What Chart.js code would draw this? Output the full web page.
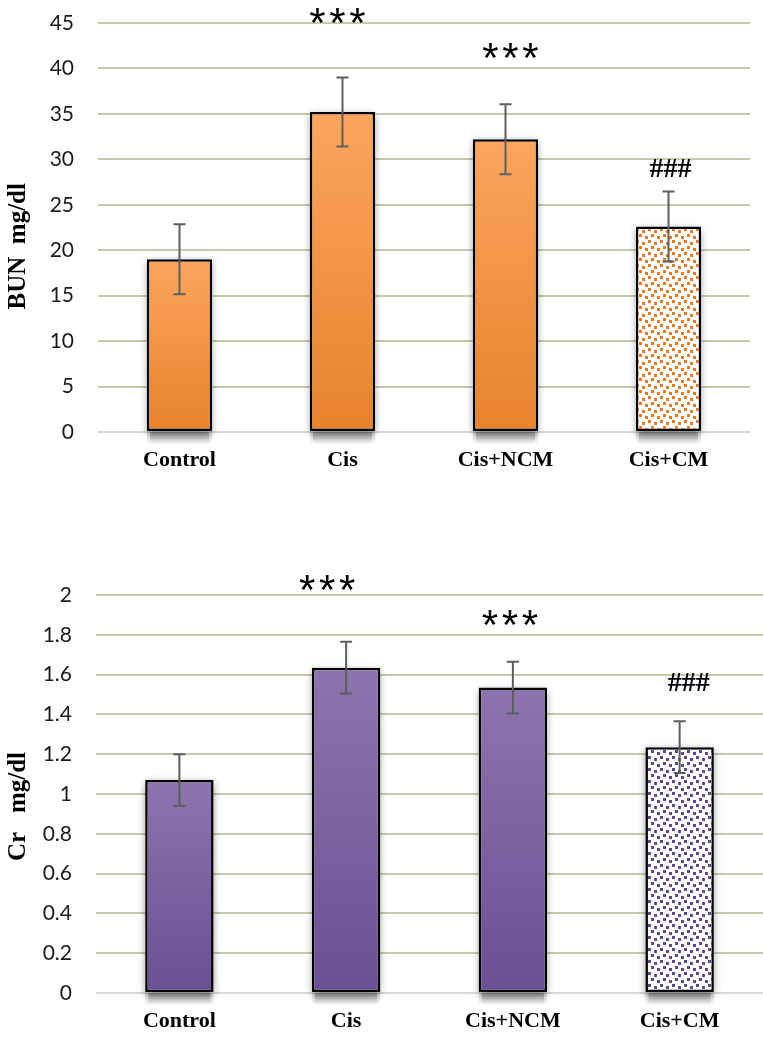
<!DOCTYPE html>
<html>
<head>
<meta charset="utf-8">
<script src="https://cdn.jsdelivr.net/npm/chart.js@4.4.1/dist/chart.umd.min.js"></script>
<style>
  body { margin: 0; background: #fff; }
  .panel { position: absolute; left: 0; width: 763px; }
  #bunBox { top: 0; height: 480px; }
  #crBox { top: 540px; height: 498px; }
</style>
</head>
<body>
<div class="panel" id="bunBox"><canvas id="bunChart" width="763" height="480"></canvas></div>
<div class="panel" id="crBox"><canvas id="crChart" width="763" height="498"></canvas></div>
<script>
// data
const groups = ['Control', 'Cis', 'Cis+NCM', 'Cis+CM'];
const marks = ['', '***', '***', '###'];

const bunMeans = [19.0, 35.2, 32.2, 22.6];
const bunErrors = [3.85, 3.8, 3.85, 3.85];
const bunTicks = ['0', '5', '10', '15', '20', '25', '30', '35', '40', '45'];

const crMeans = [1.07, 1.635, 1.535, 1.235];
const crErrors = [0.13, 0.13, 0.13, 0.13];
const crTicks = ['0', '0.2', '0.4', '0.6', '0.8', '1', '1.2', '1.4', '1.6', '1.8', '2'];

function squarePattern(color) {
  const c = document.createElement('canvas');
  c.width = 12; c.height = 12;
  const g = c.getContext('2d');
  g.fillStyle = '#fff';
  g.fillRect(0, 0, 12, 12);
  g.fillStyle = color;
  [[0, 0], [6, 2], [3, 6], [9, 8]].forEach(([x, y]) => g.fillRect(x, y, 3, 3));
  return g.createPattern(c, 'repeat');
}

function barFill(top, bottom, pattern) {
  return (context) => {
    if (context.dataIndex === 3) return pattern;
    const chart = context.chart;
    const yScale = chart.scales.y;
    if (!chart.chartArea || !yScale) return bottom;
    const y0 = yScale.getPixelForValue(context.raw);
    const y1 = yScale.getPixelForValue(0);
    const grad = chart.ctx.createLinearGradient(0, y0, 0, y1);
    grad.addColorStop(0, top);
    grad.addColorStop(1, bottom);
    return grad;
  };
}

// soft halo round each bar, and the darker band under its foot
const barShadow = {
  id: 'barShadow',
  beforeDatasetsDraw(chart) {
    const ctx = chart.ctx;
    chart.getDatasetMeta(0).data.forEach(bar => {
      const { x, y, base, width } = bar.getProps(['x', 'y', 'base', 'width'], true);
      ctx.save();
      ctx.shadowColor = 'rgba(0,0,0,0.45)';
      ctx.shadowBlur = 8;
      ctx.shadowOffsetY = 3;
      ctx.fillStyle = '#fff';
      ctx.fillRect(x - width / 2 + 1, y, width - 2, base - y);
      ctx.restore();
    });
  },
  afterDatasetsDraw(chart) {
    const ctx = chart.ctx;
    chart.getDatasetMeta(0).data.forEach(bar => {
      const { x, base, width } = bar.getProps(['x', 'base', 'width'], true);
      const left = x - width / 2;
      for (let k = 0; k < 12; k++) {
        const a = 0.55 * (1 - k / 12);
        ctx.fillStyle = 'rgba(70,70,70,' + a.toFixed(3) + ')';
        ctx.fillRect(left + 3, base + 1 + k, width - 6, 1);
        ctx.fillStyle = 'rgba(70,70,70,' + (a * 0.4).toFixed(3) + ')';
        ctx.fillRect(left, base + 1 + k, 3, 1);
        ctx.fillRect(left + width - 3, base + 1 + k, 3, 1);
      }
    });
  }
};

// error bars + significance marks
const errorBars = {
  id: 'errorBars',
  afterDatasetsDraw(chart, args, opts) {
    const ctx = chart.ctx;
    const yScale = chart.scales.y;
    const values = chart.data.datasets[0].data;
    chart.getDatasetMeta(0).data.forEach((bar, i) => {
      const hi = yScale.getPixelForValue(values[i] + opts.errors[i]);
      const lo = yScale.getPixelForValue(values[i] - opts.errors[i]);
      ctx.save();
      ctx.strokeStyle = '#5e5e5e';
      ctx.lineWidth = 2;
      ctx.beginPath();
      ctx.moveTo(bar.x, hi); ctx.lineTo(bar.x, lo);
      ctx.moveTo(bar.x - 6, hi); ctx.lineTo(bar.x + 6, hi);
      ctx.moveTo(bar.x - 6, lo); ctx.lineTo(bar.x + 6, lo);
      ctx.stroke();

      const text = marks[i];
      if (text) {
        const cx = bar.x + opts.dx[i];
        const cy = hi + opts.dy[i];
        ctx.fillStyle = '#000';
        ctx.textAlign = 'center';
        ctx.textBaseline = 'alphabetic';
        if (text.startsWith('*')) {
          ctx.font = '42px "Liberation Sans"';
          [...text].forEach((ch, k) => {
            ctx.fillText(ch, cx + (k - 1) * 20, cy + 0.57 * 42);
          });
        } else {
          ctx.font = 'bold 28px "Liberation Serif"';
          ctx.fillText(text, cx, cy + 0.34 * 28);
        }
      }
      ctx.restore();
    });
  }
};

function makeChart(id, values, errors, tickLabels, max, step, title, colors, box, offsets) {
  const canvas = document.getElementById(id);
  const pattern = squarePattern(colors[2]);
  return new Chart(canvas, {
    type: 'bar',
    data: {
      labels: groups,
      datasets: [{
        data: values,
        backgroundColor: barFill(colors[0], colors[1], pattern),
        borderColor: '#000',
        borderWidth: 2.5,
        borderSkipped: false,
        barPercentage: box.barPct,
        categoryPercentage: 1
      }]
    },
    options: {
      responsive: false,
      animation: false,
      layout: { padding: { top: box.top, right: box.right, left: 0, bottom: 0 } },
      plugins: {
        legend: { display: false },
        tooltip: { enabled: false },
        errorBars: { errors: errors, dx: offsets.dx, dy: offsets.dy }
      },
      scales: {
        x: {
          offset: true,
          grid: { display: false, drawTicks: false },
          border: { display: false },
          ticks: {
            padding: 15,
            color: '#000',
            font: { family: 'Liberation Serif', size: 22, weight: 'bold' }
          },
          afterFit: s => { s.height = box.xHeight; }
        },
        y: {
          min: 0,
          max: max,
          grid: {
            color: c => (c.tick && c.tick.value === 0) ? '#d9d9d9' : '#cbc7aa',
            lineWidth: 2,
            drawTicks: false
          },
          border: { display: false },
          ticks: {
            stepSize: step,
            padding: 24,
            color: '#1a1a1a',
            font: { family: 'Lato', size: 21 },
            callback: (v, i) => tickLabels[i]
          },
          title: {
            display: true,
            text: title,
            color: '#000',
            font: { family: 'Liberation Serif', size: 25, weight: 'bold' },
            padding: { top: 4, bottom: 0 }
          },
          afterFit: s => {
            s.width = box.yWidth;
            // tick padding should not push the plot area down
            s.paddingTop = 12;
            s.paddingBottom = 12;
          }
        }
      }
    },
    plugins: [barShadow, errorBars]
  });
}

makeChart('bunChart', bunMeans, bunErrors, bunTicks, 45, 5, 'BUN  mg/dl      ',
  ['#fba55e', '#e7822c', '#e87a22'],
  { top: 23, right: 13, yWidth: 98, xHeight: 48, barPct: 0.4 },
  { dx: [0, -5, 5, 2], dy: [0, -64, -56, -24] });

makeChart('crChart', crMeans, crErrors, crTicks, 2, 0.2, 'Cr   mg/dl    ',
  ['#8d74ae', '#6c4e94', '#5e4a88'],
  { top: 55, right: 0, yWidth: 96, xHeight: 45, barPct: 0.41 },
  { dx: [0, -19, -3, 9], dy: [0, -62, -47, -40] });
</script>
</body>
</html>
